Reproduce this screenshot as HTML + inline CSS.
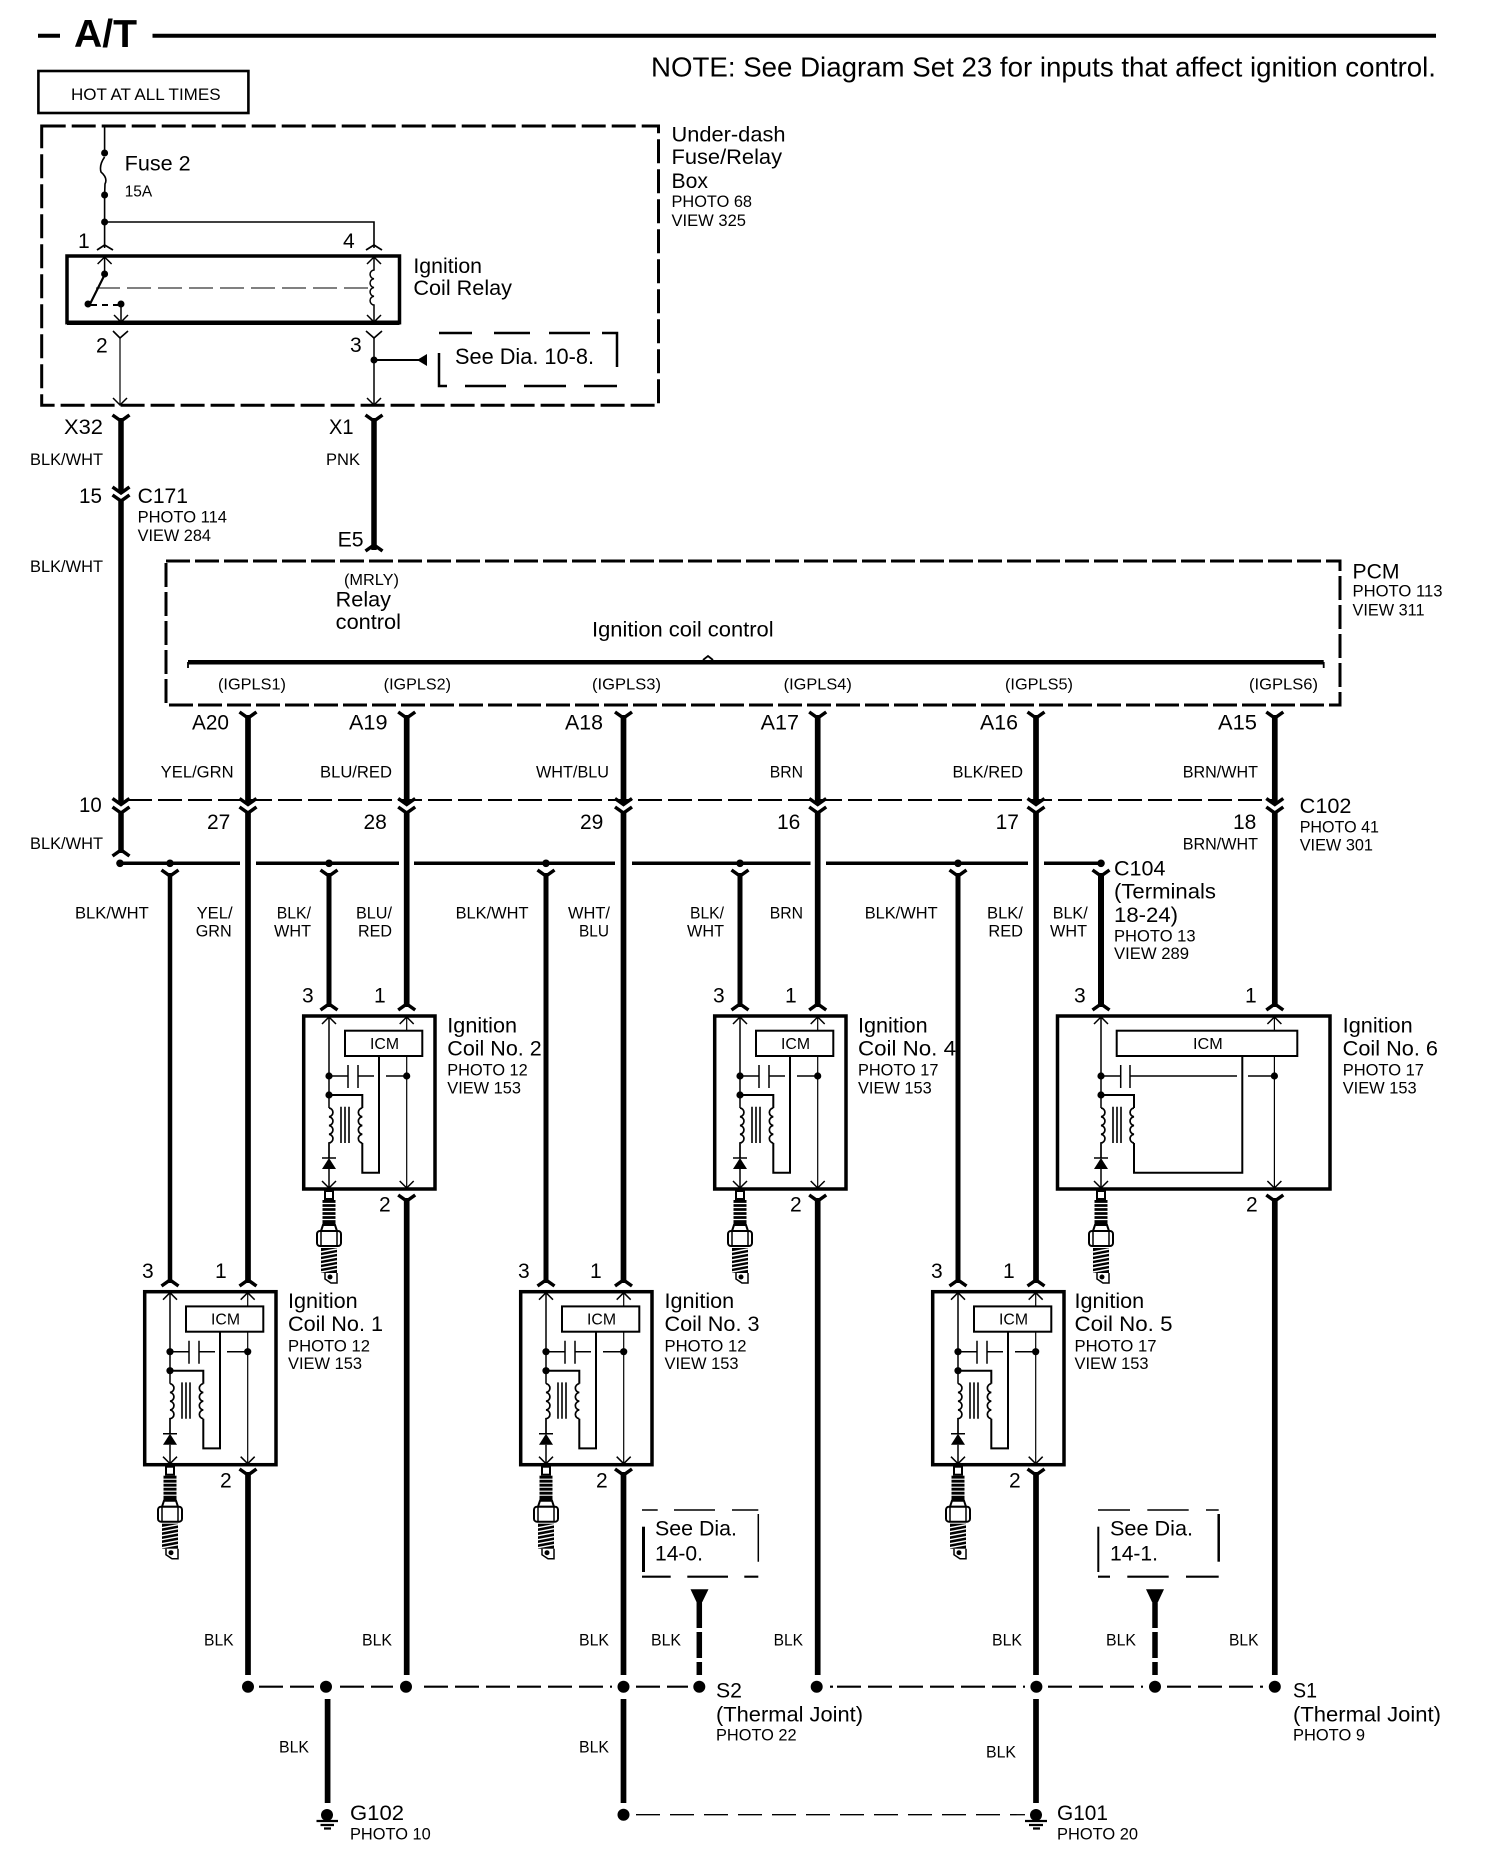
<!DOCTYPE html>
<html><head><meta charset="utf-8"><title>A/T Ignition Coil Diagram</title>
<style>
html,body{margin:0;padding:0;background:#fff}
svg{display:block}
text{font-family:"Liberation Sans",Arial,sans-serif;fill:#000;stroke:none}
.a{font-size:21px}.b{font-size:16.5px}.c{font-size:15.5px}
.w{fill:none;stroke:#000}
</style></head><body>
<svg width="1504" height="1876" viewBox="0 0 1504 1876">
<defs>
<polyline id="v" points="-8.5,0 0,6 8.5,0" fill="none" stroke="#000" stroke-width="3.5"/>
<polyline id="u" points="-8.5,0 0,-6 8.5,0" fill="none" stroke="#000" stroke-width="3.5"/>
<polyline id="tu" points="-7,7 0,0 7,7" fill="none" stroke="#000" stroke-width="1.5"/>
<polyline id="td" points="-7,-7 0,0 7,-7" fill="none" stroke="#000" stroke-width="1.5"/>
<g id="plug">
<rect x="-4" y="175" width="8" height="8" fill="#fff" stroke="#000" stroke-width="2"/>
<rect x="-6.5" y="184" width="13" height="25" fill="#000"/>
<path d="M-6.5 187.5H6.5M-6.5 191.5H6.5M-6.5 195.5H6.5M-6.5 199.5H6.5M-6.5 203.5H6.5" stroke="#fff" stroke-width="1.2"/>
<path d="M-6 209L-8 215H8L6 209Z" fill="#fff" stroke="#000" stroke-width="2"/>
<rect x="-12" y="215" width="24" height="15" rx="3" fill="#fff" stroke="#000" stroke-width="2"/>
<path d="M-8 215V230M8 215V230" stroke="#000" stroke-width="1.5"/>
<rect x="-8" y="232" width="16" height="25" fill="#000"/>
<path d="M-8 236L8 233M-8 240L8 237M-8 244L8 241M-8 248L8 245M-8 252L8 249M-8 256L8 253" stroke="#fff" stroke-width="1.4"/>
<path d="M-4 257V263L2 267H8V257" fill="none" stroke="#000" stroke-width="1.5"/>
<circle cx="1" cy="261" r="2.5"/>
</g>
<g id="inner">
<path class="w" stroke-width="1.5" d="M0 0V60M0 60V92"/>
<use href="#tu" x="0" y="1"/>
<circle cx="0" cy="60" r="3.6"/><circle cx="0" cy="79" r="3.6"/>
<path class="w" stroke-width="1.7" d="M0 92a4.4 4.4 0 0 1 0 8.75a4.4 4.4 0 0 1 0 8.75a4.4 4.4 0 0 1 0 8.75a4.4 4.4 0 0 1 0 8.75V142"/>
<path d="M0 142L-7 153H7Z"/><path class="w" stroke-width="1.5" d="M-7 142H7M0 153V173"/>
<use href="#td" x="0" y="172"/>
<path class="w" stroke-width="1.6" d="M12 90.7V127M16 90.7V127M20 90.7V127"/>
<use href="#plug"/>
</g>
<g id="coil">
<rect x="-25.3" y="0" width="131.3" height="173" fill="#fff" stroke="#000" stroke-width="3.5"/>
<use href="#inner"/>
<path class="w" stroke-width="1.2" d="M77.7 0V173"/>
<use href="#tu" x="77.7" y="1"/><use href="#td" x="77.7" y="172"/>
<circle cx="77.7" cy="60" r="3.6"/>
<rect x="16" y="14.7" width="77.3" height="25.3" fill="#fff" stroke="#000" stroke-width="2"/>
<path class="w" stroke-width="1.5" d="M0 60H19M19 49V72M29 49V72M29 60H45M57 60H77.7"/>
<path class="w" stroke-width="2" d="M50 40V156.7H33.3V127"/>
<path class="w" stroke-width="1.7" d="M33.3 127a4.4 4.4 0 0 1 0 -8.75a4.4 4.4 0 0 1 0 -8.75a4.4 4.4 0 0 1 0 -8.75a4.4 4.4 0 0 1 0 -8.75"/>
<path class="w" stroke-width="2" d="M33.3 92V79H0"/>
</g>
</defs>

<!-- Title -->
<path class="w" stroke-width="4" d="M38 35.7H60M152.5 35.7H1436"/>
<text x="74" y="47" font-size="39" font-weight="bold" textLength="63" lengthAdjust="spacingAndGlyphs">A/T</text>
<text x="651" y="76.5" font-size="28" textLength="785" lengthAdjust="spacingAndGlyphs">NOTE: See Diagram Set 23 for inputs that affect ignition control.</text>

<rect x="38.4" y="71" width="210" height="42" fill="none" stroke="#000" stroke-width="2.6"/>
<text x="71" y="100" font-size="17" textLength="149.6" lengthAdjust="spacingAndGlyphs">HOT AT ALL TIMES</text>

<!-- Under-dash box -->
<rect x="41.7" y="126" width="616.8" height="279.3" fill="none" stroke="#000" stroke-width="3" stroke-dasharray="24 6"/>
<path class="w" stroke-width="1.6" d="M104.6 126V153M104.6 157Q99 165 101 172Q108 178 105 184L104.6 195V248M104.6 222H374V248"/>
<circle cx="104.6" cy="153" r="3.5"/><circle cx="104.6" cy="195" r="3.5"/><circle cx="104.6" cy="222" r="3.5"/>
<polyline class="w" stroke-width="1.8" points="97,250 104.6,245 113,250"/>
<polyline class="w" stroke-width="1.8" points="366,250 374,245 382,250"/>
<rect x="67" y="256" width="332.5" height="66.7" fill="none" stroke="#000" stroke-width="3.5"/>
<path class="w" stroke-width="4.5" d="M67 322.7H399.5"/>
<use href="#tu" x="104.6" y="257"/><use href="#tu" x="374" y="257"/>
<path class="w" stroke-width="1.5" d="M104.6 257V274"/>
<circle cx="104.6" cy="274" r="3.5"/><circle cx="88" cy="304" r="3.5"/><circle cx="121" cy="304" r="3.5"/>
<path class="w" stroke-width="2.2" d="M105 274L90 304"/>
<path class="w" stroke-width="2" stroke-dasharray="6 5" d="M91 305H118"/>
<path class="w" stroke-width="1.5" d="M121 304V322"/><use href="#td" x="121" y="322"/>
<path class="w" stroke-width="1" stroke-dasharray="24 7" d="M96 288H369"/>
<path class="w" stroke-width="1.5" d="M374 257V270a4.4 4.4 0 0 0 0 8.75a4.4 4.4 0 0 0 0 8.75a4.4 4.4 0 0 0 0 8.75a4.4 4.4 0 0 0 0 8.75V322"/>
<use href="#td" x="374" y="322"/>
<polyline class="w" stroke-width="1.6" points="113,331 120,338 128,331"/>
<polyline class="w" stroke-width="1.6" points="366,331 374,338 382,331"/>
<path class="w" stroke-width="1.2" d="M120 338V405"/><path class="w" stroke-width="1.5" d="M374 338V405"/>
<use href="#td" x="120" y="405"/><use href="#td" x="374" y="405"/>
<circle cx="374" cy="360" r="3.5"/>
<path class="w" stroke-width="2" d="M374 360H420"/>
<path d="M417 360L427 354V366Z"/>
<path class="w" stroke-width="2.5" d="M439 333H472M494 333H530M549 333H590M602 333H617V367M439 353V386H447M465 386H506M524 386H566M584 386H617"/>
<text x="455" y="364" font-size="22" textLength="139" lengthAdjust="spacingAndGlyphs">See Dia. 10-8.</text>

<text class="a" x="124.7" y="170.7" textLength="66" lengthAdjust="spacingAndGlyphs">Fuse 2</text>
<text class="c" x="124.7" y="196.7" textLength="27.5" lengthAdjust="spacingAndGlyphs">15A</text>
<text class="a" x="413.4" y="273" textLength="68.6" lengthAdjust="spacingAndGlyphs">Ignition</text>
<text class="a" x="413.4" y="295" textLength="98.6" lengthAdjust="spacingAndGlyphs">Coil Relay</text>
<text class="a" x="671.5" y="141.7" textLength="114" lengthAdjust="spacingAndGlyphs">Under-dash</text>
<text class="a" x="671.5" y="164" textLength="110.5" lengthAdjust="spacingAndGlyphs">Fuse/Relay</text>
<text class="a" x="671.5" y="188" textLength="36.5" lengthAdjust="spacingAndGlyphs">Box</text>
<text class="b" x="671.5" y="207" textLength="80.5" lengthAdjust="spacingAndGlyphs">PHOTO 68</text>
<text class="b" x="671.5" y="226" textLength="74.5" lengthAdjust="spacingAndGlyphs">VIEW 325</text>
<text class="a" x="78" y="248">1</text><text class="a" x="343" y="248">4</text>
<text class="a" x="96" y="352.7">2</text><text class="a" x="350" y="352">3</text>

<!-- Left wire -->
<path class="w" stroke-width="5.5" d="M121 418V493M121 500V803M121 811V853"/>
<use href="#v" x="121" y="415"/><use href="#v" x="121" y="487"/><use href="#v" x="121" y="495"/>
<use href="#v" x="121" y="798.5"/><use href="#v" x="121" y="807"/><use href="#u" x="121" y="856"/>
<path class="w" stroke-width="5.5" d="M374 418V550"/>
<use href="#v" x="374" y="415"/><use href="#u" x="374" y="551"/>

<text class="a" x="64" y="434" textLength="39" lengthAdjust="spacingAndGlyphs">X32</text>
<text class="a" x="329" y="434" textLength="24.5" lengthAdjust="spacingAndGlyphs">X1</text>
<text class="b" x="30" y="465" textLength="73" lengthAdjust="spacingAndGlyphs">BLK/WHT</text>
<text class="b" x="326" y="465" textLength="34" lengthAdjust="spacingAndGlyphs">PNK</text>
<text class="a" x="79" y="503" textLength="23" lengthAdjust="spacingAndGlyphs">15</text>
<text class="a" x="137.6" y="503" textLength="50.4" lengthAdjust="spacingAndGlyphs">C171</text>
<text class="b" x="137.6" y="522.7" textLength="89.4" lengthAdjust="spacingAndGlyphs">PHOTO 114</text>
<text class="b" x="137.6" y="541" textLength="73.4" lengthAdjust="spacingAndGlyphs">VIEW 284</text>
<text class="b" x="30" y="572" textLength="73" lengthAdjust="spacingAndGlyphs">BLK/WHT</text>
<text class="a" x="337.6" y="546.7" textLength="26" lengthAdjust="spacingAndGlyphs">E5</text>

<!-- PCM -->
<rect x="166" y="561" width="1174" height="144" fill="none" stroke="#000" stroke-width="3" stroke-dasharray="24 5"/>
<text class="a" x="1352.5" y="578.3" textLength="47" lengthAdjust="spacingAndGlyphs">PCM</text>
<text class="b" x="1352.5" y="596.7" textLength="90" lengthAdjust="spacingAndGlyphs">PHOTO 113</text>
<text class="b" x="1352.5" y="615.3" textLength="72" lengthAdjust="spacingAndGlyphs">VIEW 311</text>
<text class="c" x="344" y="585" textLength="55" lengthAdjust="spacingAndGlyphs">(MRLY)</text>
<text class="a" x="335.7" y="606.7" textLength="55.3" lengthAdjust="spacingAndGlyphs">Relay</text>
<text class="a" x="335.7" y="629" textLength="65.3" lengthAdjust="spacingAndGlyphs">control</text>
<text class="a" x="592" y="636.7" textLength="181.6" lengthAdjust="spacingAndGlyphs">Ignition coil control</text>
<path class="w" stroke-width="4.5" d="M188 662.3H1323.7"/>
<path class="w" stroke-width="1.8" d="M188 662V668M1323.7 662V668M703 660L708 656L713 660"/>
<text class="c" x="218" y="689.3" textLength="68" lengthAdjust="spacingAndGlyphs">(IGPLS1)</text>
<text class="c" x="383.7" y="689.3" textLength="67.3" lengthAdjust="spacingAndGlyphs">(IGPLS2)</text>
<text class="c" x="592" y="689.3" textLength="69" lengthAdjust="spacingAndGlyphs">(IGPLS3)</text>
<text class="c" x="783.7" y="689.3" textLength="68.1" lengthAdjust="spacingAndGlyphs">(IGPLS4)</text>
<text class="c" x="1005" y="689.3" textLength="68" lengthAdjust="spacingAndGlyphs">(IGPLS5)</text>
<text class="c" x="1249" y="689.3" textLength="69" lengthAdjust="spacingAndGlyphs">(IGPLS6)</text>

<text class="a" x="192" y="729.3" textLength="37" lengthAdjust="spacingAndGlyphs">A20</text>
<text class="a" x="349" y="729.3" textLength="38.5" lengthAdjust="spacingAndGlyphs">A19</text>
<text class="a" x="565" y="729.3" textLength="38" lengthAdjust="spacingAndGlyphs">A18</text>
<text class="a" x="760.6" y="729.3" textLength="38.4" lengthAdjust="spacingAndGlyphs">A17</text>
<text class="a" x="980" y="729.3" textLength="38" lengthAdjust="spacingAndGlyphs">A16</text>
<text class="a" x="1218" y="729.3" textLength="39" lengthAdjust="spacingAndGlyphs">A15</text>

<text class="b" x="160.7" y="777.3" textLength="72.9" lengthAdjust="spacingAndGlyphs">YEL/GRN</text>
<text class="b" x="320" y="777.3" textLength="72" lengthAdjust="spacingAndGlyphs">BLU/RED</text>
<text class="b" x="536" y="777.3" textLength="73" lengthAdjust="spacingAndGlyphs">WHT/BLU</text>
<text class="b" x="769.7" y="777.3" textLength="33.3" lengthAdjust="spacingAndGlyphs">BRN</text>
<text class="b" x="952.5" y="777.3" textLength="70.5" lengthAdjust="spacingAndGlyphs">BLK/RED</text>
<text class="b" x="1182.7" y="777.3" textLength="75.3" lengthAdjust="spacingAndGlyphs">BRN/WHT</text>

<!-- C102 dashed -->
<path class="w" stroke-width="2" stroke-dasharray="24 6" d="M128 800H1275"/>
<text class="a" x="79" y="812" textLength="22.7" lengthAdjust="spacingAndGlyphs">10</text>
<text class="a" x="207" y="829">27</text><text class="a" x="363.5" y="829">28</text><text class="a" x="580" y="829">29</text>
<text class="a" x="777" y="829">16</text><text class="a" x="995.6" y="829">17</text><text class="a" x="1233" y="829">18</text>
<text class="a" x="1299.7" y="813" textLength="51.8" lengthAdjust="spacingAndGlyphs">C102</text>
<text class="b" x="1299.7" y="832.7" textLength="79.3" lengthAdjust="spacingAndGlyphs">PHOTO 41</text>
<text class="b" x="1299.7" y="850.7" textLength="73.3" lengthAdjust="spacingAndGlyphs">VIEW 301</text>
<text class="b" x="1182.7" y="849.3" textLength="75.3" lengthAdjust="spacingAndGlyphs">BRN/WHT</text>
<text class="b" x="30" y="849" textLength="73" lengthAdjust="spacingAndGlyphs">BLK/WHT</text>

<!-- bus -->
<path class="w" stroke-width="3.5" d="M120 863.3H240M256 863.3H399M414 863.3H615M632 863.3H810.5M826 863.3H1028M1044 863.3H1101"/>
<circle cx="120" cy="863.3" r="3.8"/>
<circle cx="170" cy="863.3" r="3.8"/><circle cx="329" cy="863.3" r="3.8"/><circle cx="546" cy="863.3" r="3.8"/>
<circle cx="740" cy="863.3" r="3.8"/><circle cx="958" cy="863.3" r="3.8"/><circle cx="1101" cy="863.3" r="3.8"/>

<!-- branch wires -->
<path class="w" stroke-width="4.5" d="M170 873V1283"/>
<path class="w" stroke-width="5" d="M329 873V1007M546 873V1283M740 873V1007M958 873V1283"/>
<path class="w" stroke-width="6" d="M1101 873V1007"/>
<use href="#v" x="170" y="870"/><use href="#v" x="329" y="870"/><use href="#v" x="546" y="870"/>
<use href="#v" x="740" y="870"/><use href="#v" x="958" y="870"/><use href="#v" x="1101" y="870"/>
<use href="#u" x="170" y="1286"/><use href="#u" x="546" y="1286"/><use href="#u" x="958" y="1286"/>
<use href="#u" x="329" y="1010"/><use href="#u" x="740" y="1010"/><use href="#u" x="1101" y="1010"/>

<!-- A wires -->
<g class="w" stroke-width="5.7" fill="none" stroke="#000">
<path d="M248 715V803M248 811V1283M248 1472V1675"/>
<path d="M406.7 715V803M406.7 811V1007M406.7 1198V1675"/>
<path d="M623.5 715V803M623.5 811V1283M623.5 1472V1675M623.5 1699V1803"/>
<path d="M817.7 715V803M817.7 811V1007M817.7 1198V1675"/>
<path d="M1036 715V803M1036 811V1283M1036 1472V1675M1036 1699V1803"/>
<path d="M1274.8 715V803M1274.8 811V1007M1274.8 1198V1675"/>
</g>
<use href="#v" x="248" y="712"/><use href="#v" x="406.7" y="712"/><use href="#v" x="623.5" y="712"/><use href="#v" x="817.7" y="712"/><use href="#v" x="1036" y="712"/><use href="#v" x="1274.8" y="712"/>
<use href="#v" x="248" y="798.5"/><use href="#v" x="406.7" y="798.5"/><use href="#v" x="623.5" y="798.5"/><use href="#v" x="817.7" y="798.5"/><use href="#v" x="1036" y="798.5"/><use href="#v" x="1274.8" y="798.5"/>
<use href="#v" x="248" y="807"/><use href="#v" x="406.7" y="807"/><use href="#v" x="623.5" y="807"/><use href="#v" x="817.7" y="807"/><use href="#v" x="1036" y="807"/><use href="#v" x="1274.8" y="807"/>
<use href="#u" x="248" y="1286"/><use href="#u" x="623.5" y="1286"/><use href="#u" x="1036" y="1286"/>
<use href="#u" x="406.7" y="1010"/><use href="#u" x="817.7" y="1010"/><use href="#u" x="1274.8" y="1010"/>
<use href="#v" x="406.7" y="1195"/><use href="#v" x="817.7" y="1195"/><use href="#v" x="1274.8" y="1195"/>
<use href="#v" x="248" y="1469"/><use href="#v" x="623.5" y="1469"/><use href="#v" x="1036" y="1469"/>

<!-- wire labels lower -->
<text class="b" x="75" y="918.3" textLength="73.7" lengthAdjust="spacingAndGlyphs">BLK/WHT</text>
<text class="b" x="196.6" y="918.3" textLength="36" lengthAdjust="spacingAndGlyphs">YEL/</text>
<text class="b" x="195.7" y="936.7" textLength="36" lengthAdjust="spacingAndGlyphs">GRN</text>
<text class="b" x="276.7" y="918.3" textLength="34.3" lengthAdjust="spacingAndGlyphs">BLK/</text>
<text class="b" x="274" y="936.7" textLength="37" lengthAdjust="spacingAndGlyphs">WHT</text>
<text class="b" x="356" y="918.3" textLength="36" lengthAdjust="spacingAndGlyphs">BLU/</text>
<text class="b" x="358" y="936.7" textLength="34" lengthAdjust="spacingAndGlyphs">RED</text>
<text class="b" x="455.6" y="918.3" textLength="72.9" lengthAdjust="spacingAndGlyphs">BLK/WHT</text>
<text class="b" x="568" y="918.3" textLength="42" lengthAdjust="spacingAndGlyphs">WHT/</text>
<text class="b" x="579" y="936.7" textLength="30" lengthAdjust="spacingAndGlyphs">BLU</text>
<text class="b" x="690" y="918.3" textLength="34" lengthAdjust="spacingAndGlyphs">BLK/</text>
<text class="b" x="687" y="936.7" textLength="37" lengthAdjust="spacingAndGlyphs">WHT</text>
<text class="b" x="769.7" y="918.3" textLength="33.3" lengthAdjust="spacingAndGlyphs">BRN</text>
<text class="b" x="864.7" y="918.3" textLength="72.9" lengthAdjust="spacingAndGlyphs">BLK/WHT</text>
<text class="b" x="987" y="918.3" textLength="36" lengthAdjust="spacingAndGlyphs">BLK/</text>
<text class="b" x="988.4" y="936.7" textLength="34.6" lengthAdjust="spacingAndGlyphs">RED</text>
<text class="b" x="1052.7" y="918.3" textLength="35" lengthAdjust="spacingAndGlyphs">BLK/</text>
<text class="b" x="1050" y="936.7" textLength="37" lengthAdjust="spacingAndGlyphs">WHT</text>
<text class="a" x="1114" y="875.3" textLength="51.4" lengthAdjust="spacingAndGlyphs">C104</text>
<text class="a" x="1114" y="898.7" textLength="102" lengthAdjust="spacingAndGlyphs">(Terminals</text>
<text class="a" x="1114" y="922" textLength="64" lengthAdjust="spacingAndGlyphs">18-24)</text>
<text class="b" x="1114" y="941.7" textLength="81.6" lengthAdjust="spacingAndGlyphs">PHOTO 13</text>
<text class="b" x="1114" y="959" textLength="75" lengthAdjust="spacingAndGlyphs">VIEW 289</text>

<!-- coils -->
<use href="#coil" x="329" y="1016"/>
<use href="#coil" x="740" y="1016"/>
<use href="#coil" x="170" y="1291.7"/>
<use href="#coil" x="546" y="1291.7"/>
<use href="#coil" x="958" y="1291.7"/>
<g transform="translate(1101 1016)">
<rect x="-43.5" y="0" width="272.5" height="173" fill="#fff" stroke="#000" stroke-width="3.5"/>
<use href="#inner"/>
<path class="w" stroke-width="1.2" d="M173.4 0V173"/>
<use href="#tu" x="173.4" y="1"/><use href="#td" x="173.4" y="172"/>
<circle cx="173.4" cy="60" r="3.6"/>
<rect x="15.7" y="14.7" width="180.6" height="25.3" fill="#fff" stroke="#000" stroke-width="2"/>
<path class="w" stroke-width="1.5" d="M0 60H19.7M19.7 49V72M29 49V72M29 60H136M147 60H173.4"/>
<path class="w" stroke-width="2" d="M141.3 40V156.7H33V127"/>
<path class="w" stroke-width="1.7" d="M33 127a4.4 4.4 0 0 1 0 -8.75a4.4 4.4 0 0 1 0 -8.75a4.4 4.4 0 0 1 0 -8.75a4.4 4.4 0 0 1 0 -8.75"/>
<path class="w" stroke-width="2" d="M33 92V79H0"/>
</g>
<!-- ICM labels -->
<text class="c" x="370" y="1049" textLength="29" lengthAdjust="spacingAndGlyphs">ICM</text>
<text class="c" x="781" y="1049" textLength="29" lengthAdjust="spacingAndGlyphs">ICM</text>
<text class="c" x="1193" y="1049" textLength="29.7" lengthAdjust="spacingAndGlyphs">ICM</text>
<text class="c" x="211" y="1324.7" textLength="29" lengthAdjust="spacingAndGlyphs">ICM</text>
<text class="c" x="587" y="1324.7" textLength="29" lengthAdjust="spacingAndGlyphs">ICM</text>
<text class="c" x="999" y="1324.7" textLength="29" lengthAdjust="spacingAndGlyphs">ICM</text>

<!-- coil numbers -->
<text class="a" x="302" y="1002.7">3</text><text class="a" x="374" y="1002.7">1</text><text class="a" x="379" y="1211.7">2</text>
<text class="a" x="713" y="1002.7">3</text><text class="a" x="785" y="1002.7">1</text><text class="a" x="790" y="1211.7">2</text>
<text class="a" x="1074" y="1002.7">3</text><text class="a" x="1245" y="1002.7">1</text><text class="a" x="1246" y="1211.7">2</text>
<text class="a" x="142" y="1278">3</text><text class="a" x="215" y="1278">1</text><text class="a" x="220" y="1487.4">2</text>
<text class="a" x="518" y="1278">3</text><text class="a" x="590" y="1278">1</text><text class="a" x="596" y="1487.4">2</text>
<text class="a" x="931" y="1278">3</text><text class="a" x="1003" y="1278">1</text><text class="a" x="1009" y="1487.4">2</text>

<!-- coil labels -->
<text class="a" x="447.3" y="1032.3" textLength="69.7" lengthAdjust="spacingAndGlyphs">Ignition</text>
<text class="a" x="447.3" y="1055.3" textLength="94.4" lengthAdjust="spacingAndGlyphs">Coil No. 2</text>
<text class="b" x="447.3" y="1075.7" textLength="80.4" lengthAdjust="spacingAndGlyphs">PHOTO 12</text>
<text class="b" x="447.3" y="1093.3" textLength="73.7" lengthAdjust="spacingAndGlyphs">VIEW 153</text>
<text class="a" x="858" y="1032.3" textLength="69.7" lengthAdjust="spacingAndGlyphs">Ignition</text>
<text class="a" x="858" y="1055.3" textLength="98" lengthAdjust="spacingAndGlyphs">Coil No. 4</text>
<text class="b" x="858" y="1075.7" textLength="80.4" lengthAdjust="spacingAndGlyphs">PHOTO 17</text>
<text class="b" x="858" y="1093.3" textLength="73.7" lengthAdjust="spacingAndGlyphs">VIEW 153</text>
<text class="a" x="1342.7" y="1032.3" textLength="70" lengthAdjust="spacingAndGlyphs">Ignition</text>
<text class="a" x="1342.7" y="1055.3" textLength="95.3" lengthAdjust="spacingAndGlyphs">Coil No. 6</text>
<text class="b" x="1342.7" y="1075.7" textLength="81.3" lengthAdjust="spacingAndGlyphs">PHOTO 17</text>
<text class="b" x="1342.7" y="1093.3" textLength="74" lengthAdjust="spacingAndGlyphs">VIEW 153</text>
<text class="a" x="288" y="1308" textLength="69.7" lengthAdjust="spacingAndGlyphs">Ignition</text>
<text class="a" x="288" y="1331" textLength="95" lengthAdjust="spacingAndGlyphs">Coil No. 1</text>
<text class="b" x="288" y="1351.4" textLength="82" lengthAdjust="spacingAndGlyphs">PHOTO 12</text>
<text class="b" x="288" y="1369" textLength="74" lengthAdjust="spacingAndGlyphs">VIEW 153</text>
<text class="a" x="664.5" y="1308" textLength="69.7" lengthAdjust="spacingAndGlyphs">Ignition</text>
<text class="a" x="664.5" y="1331" textLength="95" lengthAdjust="spacingAndGlyphs">Coil No. 3</text>
<text class="b" x="664.5" y="1351.4" textLength="82" lengthAdjust="spacingAndGlyphs">PHOTO 12</text>
<text class="b" x="664.5" y="1369" textLength="74" lengthAdjust="spacingAndGlyphs">VIEW 153</text>
<text class="a" x="1074.5" y="1308" textLength="69.7" lengthAdjust="spacingAndGlyphs">Ignition</text>
<text class="a" x="1074.5" y="1331" textLength="98" lengthAdjust="spacingAndGlyphs">Coil No. 5</text>
<text class="b" x="1074.5" y="1351.4" textLength="82" lengthAdjust="spacingAndGlyphs">PHOTO 17</text>
<text class="b" x="1074.5" y="1369" textLength="74" lengthAdjust="spacingAndGlyphs">VIEW 153</text>

<!-- See Dia 14-x -->
<path class="w" stroke-width="1.5" d="M642 1510H657.7M674 1510H715M732 1510H758.3M758.3 1514V1561.7"/>
<path class="w" stroke-width="2.2" d="M642 1576.7H670.7M687.3 1576.7H728M744.3 1576.7H758.3"/>
<path class="w" stroke-width="3" d="M643.5 1526.7V1572"/>
<text class="a" x="655" y="1535.7" textLength="82" lengthAdjust="spacingAndGlyphs">See Dia.</text>
<text class="a" x="655" y="1560.7" textLength="48" lengthAdjust="spacingAndGlyphs">14-0.</text>
<path class="w" stroke-width="1.5" d="M1098 1510H1130M1147.3 1510H1188.7M1206 1510H1218.7"/>
<path class="w" stroke-width="2.2" d="M1098 1576.7H1110M1127.3 1576.7H1168.7M1186 1576.7H1218.7"/>
<path class="w" stroke-width="2" d="M1098.3 1526.7V1572"/>
<path class="w" stroke-width="2.5" d="M1218.7 1514V1561.7"/>
<text class="a" x="1110" y="1535.7" textLength="83" lengthAdjust="spacingAndGlyphs">See Dia.</text>
<text class="a" x="1110" y="1560.7" textLength="48" lengthAdjust="spacingAndGlyphs">14-1.</text>
<path d="M690.5 1589.3H708.5L702.3 1602H696.5Z"/>
<path d="M1146 1589.3H1164L1158 1602H1152Z"/>
<path class="w" stroke-width="5.5" d="M699.3 1598V1628M699.3 1632V1658M699.3 1662V1675M1155 1598V1628M1155 1632V1658M1155 1662V1675"/>

<!-- lower bus -->
<g class="w" stroke-width="2.2" fill="none" stroke="#000" stroke-dasharray="24 7">
<path d="M259 1686.7H316"/>
<path d="M340 1686.7H393"/>
<path d="M424 1686.7H612"/>
<path d="M636 1686.7H688"/>
<path d="M837 1686.7H1025"/>
<path d="M1048 1686.7H1143"/>
<path d="M1167 1686.7H1263"/>
</g>
<path class="w" stroke-width="2.2" d="M830 1686.7H833"/>
<circle cx="248" cy="1686.7" r="6"/><circle cx="326" cy="1686.7" r="6"/><circle cx="406" cy="1686.7" r="6"/>
<circle cx="623.5" cy="1686.7" r="6"/><circle cx="699.3" cy="1686.7" r="6"/><circle cx="816.7" cy="1686.7" r="6"/>
<circle cx="1036.4" cy="1686.7" r="6"/><circle cx="1155" cy="1686.7" r="6"/><circle cx="1274.8" cy="1686.7" r="6"/>
<path class="w" stroke-width="5.7" d="M327.6 1699V1803"/>
<circle cx="327" cy="1815" r="6"/><circle cx="623.5" cy="1814.7" r="6"/><circle cx="1036" cy="1815" r="6"/>
<path class="w" stroke-width="1.3" stroke-dasharray="24 10" d="M636 1814.7H1025"/>
<path class="w" stroke-width="2.2" d="M316.5 1821H338M320.5 1825H334M324 1828.5H331M1025 1821H1047M1029 1825H1043M1033 1828.5H1040"/>

<text class="b" x="204" y="1645.7" textLength="29.6" lengthAdjust="spacingAndGlyphs">BLK</text>
<text class="b" x="362" y="1645.7" textLength="30" lengthAdjust="spacingAndGlyphs">BLK</text>
<text class="b" x="579" y="1645.7" textLength="30" lengthAdjust="spacingAndGlyphs">BLK</text>
<text class="b" x="651" y="1645.7" textLength="30" lengthAdjust="spacingAndGlyphs">BLK</text>
<text class="b" x="773.6" y="1645.7" textLength="29.4" lengthAdjust="spacingAndGlyphs">BLK</text>
<text class="b" x="992" y="1645.7" textLength="30" lengthAdjust="spacingAndGlyphs">BLK</text>
<text class="b" x="1106" y="1645.7" textLength="30" lengthAdjust="spacingAndGlyphs">BLK</text>
<text class="b" x="1229" y="1645.7" textLength="29.5" lengthAdjust="spacingAndGlyphs">BLK</text>
<text class="b" x="279" y="1752.7" textLength="30" lengthAdjust="spacingAndGlyphs">BLK</text>
<text class="b" x="579" y="1752.7" textLength="30" lengthAdjust="spacingAndGlyphs">BLK</text>
<text class="b" x="986" y="1757.7" textLength="30" lengthAdjust="spacingAndGlyphs">BLK</text>

<text class="a" x="716" y="1697.3" textLength="26" lengthAdjust="spacingAndGlyphs">S2</text>
<text class="a" x="716" y="1721.7" textLength="147" lengthAdjust="spacingAndGlyphs">(Thermal Joint)</text>
<text class="b" x="716" y="1740.7" textLength="80.6" lengthAdjust="spacingAndGlyphs">PHOTO 22</text>
<text class="a" x="1293" y="1697.3" textLength="24" lengthAdjust="spacingAndGlyphs">S1</text>
<text class="a" x="1293" y="1721.7" textLength="148" lengthAdjust="spacingAndGlyphs">(Thermal Joint)</text>
<text class="b" x="1293" y="1740.7" textLength="72" lengthAdjust="spacingAndGlyphs">PHOTO 9</text>
<text class="a" x="350" y="1820" textLength="54" lengthAdjust="spacingAndGlyphs">G102</text>
<text class="b" x="350" y="1839.3" textLength="80.7" lengthAdjust="spacingAndGlyphs">PHOTO 10</text>
<text class="a" x="1057" y="1820" textLength="51" lengthAdjust="spacingAndGlyphs">G101</text>
<text class="b" x="1057" y="1839.3" textLength="81" lengthAdjust="spacingAndGlyphs">PHOTO 20</text>
</svg>
</body></html>
